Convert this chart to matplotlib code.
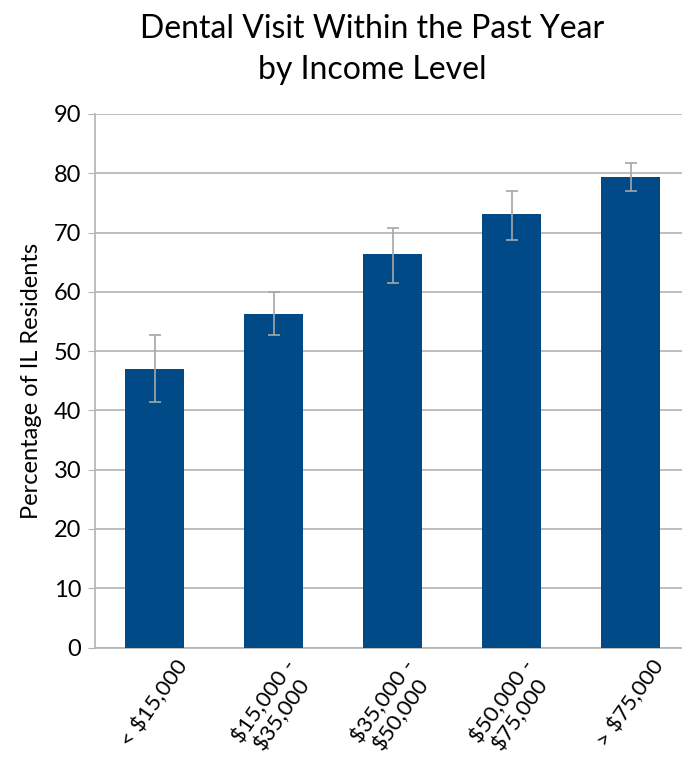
import numpy as np
import matplotlib.pyplot as plt

plt.rcParams['font.family'] = ['Lato', 'DejaVu Sans']

# data
categories = ['< \\$15,000', '\\$15,000 -\n\\$35,000', '\\$35,000 -\n\\$50,000',
              '\\$50,000 -\n\\$75,000', '> \\$75,000']
values = [47.0, 56.3, 66.4, 73.2, 79.4]
lower = [41.4, 52.7, 61.5, 68.7, 77.0]
upper = [52.7, 60.0, 70.8, 77.0, 81.7]

err = np.array([np.array(values) - np.array(lower),
                np.array(upper) - np.array(values)])

fig = plt.figure(figsize=(6.82, 7.62), dpi=100)
ax = fig.add_axes([95/682, 1 - 647.5/762, (690 - 95)/682, (647.5 - 114)/762])

x = np.arange(len(categories))
ax.bar(x, values, width=0.5, color='#004a87', zorder=3)
ax.errorbar(x, values, yerr=err, fmt='none', ecolor='#a6a6a6',
            elinewidth=1.2, capsize=4.5, capthick=1.2, zorder=4)

ax.set_xlim(-0.5, 4.5)
ax.set_ylim(0, 90)
ax.set_yticks(np.arange(0, 91, 10))
ax.yaxis.grid(True, color='#b3b3b3', linewidth=1.2, zorder=0)
ax.set_axisbelow(True)

for s in ['top', 'right']:
    ax.spines[s].set_visible(False)
for s in ['left', 'bottom']:
    ax.spines[s].set_color('#b3b3b3')
    ax.spines[s].set_linewidth(1.2)

ax.tick_params(axis='y', length=5, color='#b3b3b3', labelsize=17, pad=5)
ax.tick_params(axis='x', length=0, pad=6)
ax.set_xticks(x)
ax.set_xticklabels(categories, rotation=55, ha='center', va='top',
                   fontsize=16, multialignment='center', linespacing=1.1)

ax.set_ylabel('Percentage of IL Residents', fontsize=17, labelpad=8)

fig.text(372/682, 1 - 14/762, 'Dental Visit Within the Past Year\nby Income Level',
         ha='center', va='top', fontsize=23, linespacing=1.45)

fig.savefig('out.png', dpi=100)
